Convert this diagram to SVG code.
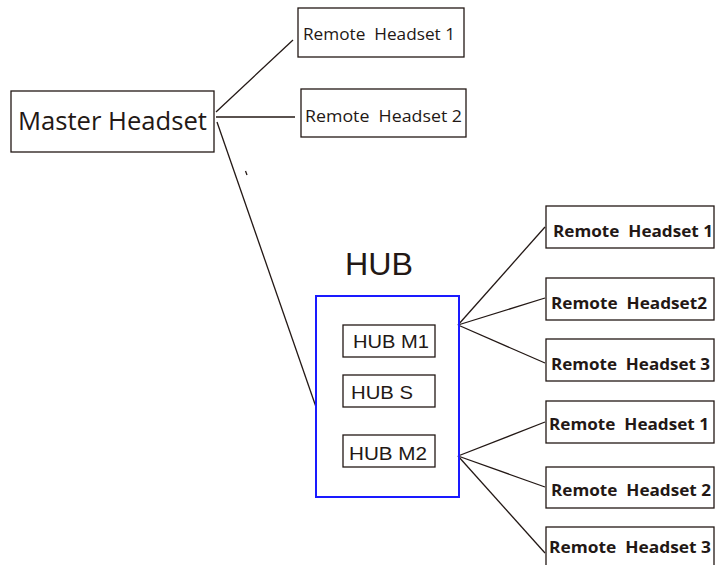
<svg xmlns="http://www.w3.org/2000/svg" width="715" height="565" viewBox="0 0 715 565">
<style>
.box{fill:#fff;stroke:#231815;stroke-width:1.3}
.hub{fill:none;stroke:#1a1aff;stroke-width:2}
.ln{stroke:#231815;stroke-width:1.3;fill:none}
.t{font-family:"Open Sans","Noto Sans",sans-serif;fill:#231815}
.b{font-family:"Open Sans","Noto Sans",sans-serif;fill:#231815;font-weight:bold;font-size:16px}
.a{font-family:"Liberation Sans",Arial,sans-serif;fill:#231815}
</style>
<rect width="715" height="565" fill="#fff"/>
<g id="connectors">
<line class="ln" x1="216" y1="112" x2="293" y2="40"/>
<line class="ln" x1="216" y1="117" x2="295" y2="117"/>
<line class="ln" x1="217" y1="122" x2="316" y2="407"/>
<line class="ln" x1="245.5" y1="171" x2="247" y2="175"/>
<line class="ln" x1="458" y1="325" x2="545" y2="227"/>
<line class="ln" x1="458" y1="325" x2="545" y2="298"/>
<line class="ln" x1="458" y1="325" x2="545" y2="363"/>
<line class="ln" x1="458" y1="456" x2="545" y2="422"/>
<line class="ln" x1="458" y1="456" x2="545" y2="487"/>
<line class="ln" x1="458" y1="456" x2="545" y2="553"/>
</g>
<g id="master">
<rect class="box" x="11" y="91" width="203" height="61"/>
<text class="t" x="18" y="130" font-size="25" textLength="189" lengthAdjust="spacingAndGlyphs">Master Headset</text>
</g>
<g id="remote1">
<rect class="box" x="298" y="8" width="166" height="49"/>
<text class="t" x="303" y="40" font-size="16" textLength="152" lengthAdjust="spacingAndGlyphs" xml:space="preserve">Remote  Headset 1</text>
</g>
<g id="remote2">
<rect class="box" x="301" y="89" width="165" height="48"/>
<text class="t" x="305" y="122" font-size="16" textLength="157" lengthAdjust="spacingAndGlyphs" xml:space="preserve">Remote  Headset 2</text>
</g>
<g id="hub">
<text class="a" x="345" y="275" font-size="31" textLength="68" lengthAdjust="spacingAndGlyphs">HUB</text>
<rect class="hub" x="316" y="296" width="143" height="201"/>
</g>
<g id="hubm1">
<rect class="box" x="343" y="325" width="92" height="32"/>
<text class="a" x="353" y="348" font-size="18.5" textLength="76" lengthAdjust="spacingAndGlyphs">HUB M1</text>
</g>
<g id="hubs">
<rect class="box" x="343" y="375" width="92" height="32"/>
<text class="a" x="351" y="399" font-size="18.5" textLength="62" lengthAdjust="spacingAndGlyphs">HUB S</text>
</g>
<g id="hubm2">
<rect class="box" x="343" y="435" width="92" height="32"/>
<text class="a" x="349" y="460" font-size="18.5" textLength="78" lengthAdjust="spacingAndGlyphs">HUB M2</text>
</g>
<g id="r1a">
<rect class="box" x="546" y="206" width="168" height="42"/>
<text class="b" x="553" y="237" textLength="160" lengthAdjust="spacingAndGlyphs" xml:space="preserve">Remote  Headset 1</text>
</g>
<g id="r2a">
<rect class="box" x="546" y="278" width="168" height="42"/>
<text class="b" x="551" y="309" textLength="156" lengthAdjust="spacingAndGlyphs" xml:space="preserve">Remote  Headset2</text>
</g>
<g id="r3a">
<rect class="box" x="546" y="339" width="168" height="42"/>
<text class="b" x="551" y="370" textLength="159" lengthAdjust="spacingAndGlyphs" xml:space="preserve">Remote  Headset 3</text>
</g>
<g id="r1b">
<rect class="box" x="546" y="401" width="168" height="42"/>
<text class="b" x="549" y="430" textLength="160" lengthAdjust="spacingAndGlyphs" xml:space="preserve">Remote  Headset 1</text>
</g>
<g id="r2b">
<rect class="box" x="546" y="467" width="168" height="41"/>
<text class="b" x="551" y="496" textLength="160" lengthAdjust="spacingAndGlyphs" xml:space="preserve">Remote  Headset 2</text>
</g>
<g id="r3b">
<rect class="box" x="546" y="527" width="168" height="42"/>
<text class="b" x="549" y="553" textLength="162" lengthAdjust="spacingAndGlyphs" xml:space="preserve">Remote  Headset 3</text>
</g>
</svg>
